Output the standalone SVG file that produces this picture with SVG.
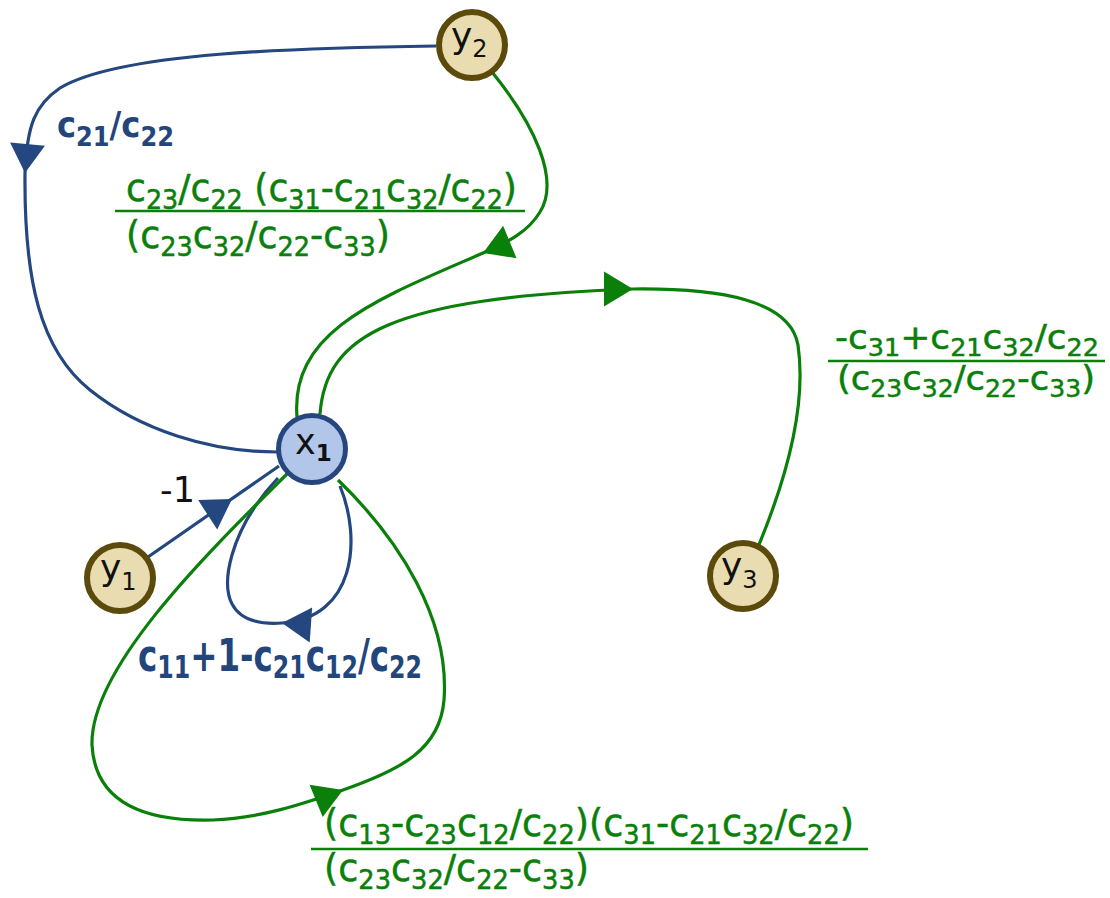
<svg xmlns="http://www.w3.org/2000/svg" xmlns:xlink="http://www.w3.org/1999/xlink" width="1110" height="898" viewBox="0 0 1110 898">
<style>
.bl{fill:none;stroke:#23477e;stroke-width:3.2}
.gr{fill:none;stroke:#0a7f0a;stroke-width:3.2}
.ba{fill:#23477e}
.ga{fill:#0a7f0a}
.ny{fill:#e9dcb0;stroke:#5b4a0c;stroke-width:6}
.nx{fill:#b1c6e8;stroke:#26467e;stroke-width:5}
.nt{font-family:"DejaVu Sans",sans-serif;fill:#111}
.g{font-family:"DejaVu Sans",sans-serif;fill:#0a7f0a;stroke:#0a7f0a;stroke-width:0.5}
.b{font-family:"DejaVu Sans",sans-serif;fill:#22467c;font-weight:bold}
.fl{stroke:#0a7f0a;stroke-width:2.5}
</style>
<defs>
<path id="ah" d="M0,0 L-29,-17.5 L-29,17.5 Z"/>
</defs>
<g id="connectors">
<path class="bl" d="M436,46 C300,48 120,52 60,88 C35,105 27,125 25,173 C24,280 40,350 90,390 C140,430 210,452 277,452"/>
<use xlink:href="#ah" class="ba" transform="translate(25,173) rotate(95)"/>
<path class="gr" d="M492,72 C535,125 560,180 540,212 C528,232 508,242 483,253 C380,298 290,330 297,417"/>
<use xlink:href="#ah" class="ga" transform="translate(483,253) rotate(157.6)"/>
<path class="gr" d="M320,414 C326,335 390,298 633,289 C720,288 790,300 798,345 C806,400 790,470 758,547"/>
<use xlink:href="#ah" class="ga" transform="translate(633,289) rotate(0)"/>
<path class="bl" d="M148,557 L279,466"/>
<use xlink:href="#ah" class="ba" transform="translate(232,499) rotate(-33)"/>
<path class="bl" d="M340,486 C362,540 355,618 282,623 C225,627 222,590 232,555 C242,520 262,495 278,478"/>
<use xlink:href="#ah" class="ba" transform="translate(282,623) rotate(184)"/>
<path class="gr" d="M287,474 C200,560 90,670 92,745 C95,800 140,822 213,820 C260,818 300,805 343,790 C400,770 440,750 444,700 C450,620 400,540 338,480"/>
<use xlink:href="#ah" class="ga" transform="translate(343,790) rotate(-22)"/>
</g>
<g id="labels">
<text class="b" x="57" y="137" font-size="36" textLength="117" lengthAdjust="spacingAndGlyphs">c<tspan font-size="27" dy="9">21</tspan><tspan dy="-9">/c</tspan><tspan font-size="27" dy="9">22</tspan></text>
<text class="b" x="138" y="671" font-size="44" textLength="284" lengthAdjust="spacingAndGlyphs">c<tspan font-size="32" dy="7">11</tspan><tspan dy="-7">+1-c</tspan><tspan font-size="32" dy="7">21</tspan><tspan dy="-7">c</tspan><tspan font-size="32" dy="7">12</tspan><tspan dy="-7">/c</tspan><tspan font-size="32" dy="7">22</tspan></text>
<text x="160" y="502" font-size="35" font-family="DejaVu Sans, sans-serif" fill="#111">-1</text>
<text class="g" x="126" y="201" font-size="37" textLength="391" lengthAdjust="spacingAndGlyphs">c<tspan font-size="26" dy="8">23</tspan><tspan dy="-8">/c</tspan><tspan font-size="26" dy="8">22</tspan><tspan dy="-8"> (c</tspan><tspan font-size="26" dy="8">31</tspan><tspan dy="-8">-c</tspan><tspan font-size="26" dy="8">21</tspan><tspan dy="-8">c</tspan><tspan font-size="26" dy="8">32</tspan><tspan dy="-8">/c</tspan><tspan font-size="26" dy="8">22</tspan><tspan dy="-8">)</tspan></text>
<line class="fl" x1="115" y1="211" x2="525" y2="211"/>
<text class="g" x="126" y="248" font-size="37" textLength="264" lengthAdjust="spacingAndGlyphs">(c<tspan font-size="26" dy="8">23</tspan><tspan dy="-8">c</tspan><tspan font-size="26" dy="8">32</tspan><tspan dy="-8">/c</tspan><tspan font-size="26" dy="8">22</tspan><tspan dy="-8">-c</tspan><tspan font-size="26" dy="8">33</tspan><tspan dy="-8">)</tspan></text>
<text class="g" x="835" y="349" font-size="34" stroke-width="0.8" textLength="264" lengthAdjust="spacingAndGlyphs">-c<tspan font-size="24" dy="7">31</tspan><tspan dy="-7">+c</tspan><tspan font-size="24" dy="7">21</tspan><tspan dy="-7">c</tspan><tspan font-size="24" dy="7">32</tspan><tspan dy="-7">/c</tspan><tspan font-size="24" dy="7">22</tspan></text>
<line class="fl" x1="828" y1="361" x2="1105" y2="361"/>
<text class="g" x="837" y="390" font-size="34" stroke-width="0.8" textLength="258" lengthAdjust="spacingAndGlyphs">(c<tspan font-size="24" dy="7">23</tspan><tspan dy="-7">c</tspan><tspan font-size="24" dy="7">32</tspan><tspan dy="-7">/c</tspan><tspan font-size="24" dy="7">22</tspan><tspan dy="-7">-c</tspan><tspan font-size="24" dy="7">33</tspan><tspan dy="-7">)</tspan></text>
<text class="g" x="324" y="836" font-size="37" stroke-width="0.9" textLength="530" lengthAdjust="spacingAndGlyphs">(c<tspan font-size="26" dy="8">13</tspan><tspan dy="-8">-c</tspan><tspan font-size="26" dy="8">23</tspan><tspan dy="-8">c</tspan><tspan font-size="26" dy="8">12</tspan><tspan dy="-8">/c</tspan><tspan font-size="26" dy="8">22</tspan><tspan dy="-8">)(c</tspan><tspan font-size="26" dy="8">31</tspan><tspan dy="-8">-c</tspan><tspan font-size="26" dy="8">21</tspan><tspan dy="-8">c</tspan><tspan font-size="26" dy="8">32</tspan><tspan dy="-8">/c</tspan><tspan font-size="26" dy="8">22</tspan><tspan dy="-8">)</tspan></text>
<line class="fl" x1="311" y1="849" x2="868" y2="849"/>
<text class="g" x="324" y="881" font-size="37" stroke-width="0.9" textLength="265" lengthAdjust="spacingAndGlyphs">(c<tspan font-size="26" dy="8">23</tspan><tspan dy="-8">c</tspan><tspan font-size="26" dy="8">32</tspan><tspan dy="-8">/c</tspan><tspan font-size="26" dy="8">22</tspan><tspan dy="-8">-c</tspan><tspan font-size="26" dy="8">33</tspan><tspan dy="-8">)</tspan></text>
</g>
<g id="node-y2">
<circle class="ny" cx="472" cy="45" r="33"/>
<text class="nt" x="451" y="48" font-size="36">y<tspan font-size="24" dy="9">2</tspan></text>
</g>
<g id="node-x1">
<circle class="nx" cx="312" cy="449" r="33.5"/>
<text class="nt" x="295" y="454" font-size="35">x<tspan font-size="23" dy="7" font-weight="bold">1</tspan></text>
</g>
<g id="node-y1">
<circle class="ny" cx="120" cy="578" r="33"/>
<text class="nt" x="100" y="580" font-size="36">y<tspan font-size="24" dy="10">1</tspan></text>
</g>
<g id="node-y3">
<circle class="ny" cx="743" cy="576" r="33"/>
<text class="nt" x="721" y="578" font-size="36">y<tspan font-size="24" dy="10">3</tspan></text>
</g>
</svg>
